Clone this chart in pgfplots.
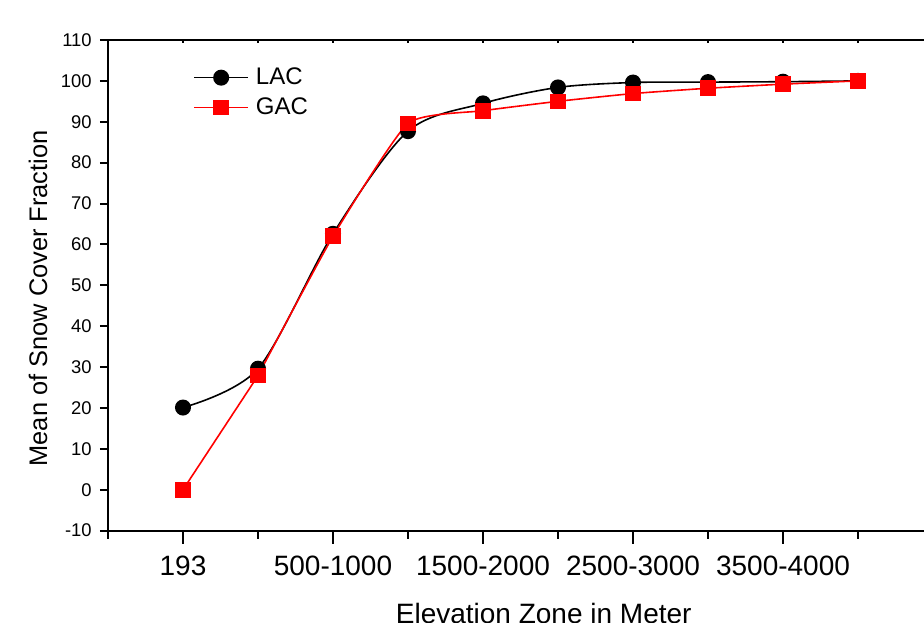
\documentclass[border=0pt]{standalone}
\usepackage{fontspec}
\setmainfont{Liberation Sans}
\usepackage{pgfplots}
\pgfplotsset{compat=1.18}
\begin{document}
\begin{tikzpicture}
\begin{axis}[
  name=ax,
  scale only axis,
  width=412.5bp, height=245.3bp,
  xmin=-1, xmax=10, ymin=-10, ymax=110,
  axis line style={line width=1bp},
  every tick/.style={line width=1bp, black},
  xtick pos=bottom, ytick pos=left,
  tick align=outside,
  major tick length=4bp,
  xtick={-1,1,3,5,7,9},
  xticklabels={,,,,,},
  extra x ticks={0,2,4,6,8},
  extra x tick labels={193,500-1000,1500-2000,2500-3000,3500-4000},
  extra x tick style={major tick length=6.5bp},
  ytick={-10,0,...,110},
  /pgf/number format/assume math mode=true,
  xticklabel style={font=\fontsize{14bp}{16bp}\selectfont, inner sep=0pt, anchor=north, yshift=-6bp},
  yticklabel style={font=\fontsize{9.2bp}{11bp}\selectfont, inner sep=0pt, anchor=east, xshift=-4bp},
  xlabel={Elevation Zone in Meter},
  xlabel style={font=\fontsize{14bp}{16bp}\selectfont, at={(axis cs:4.81,-10)}, anchor=base, inner sep=0pt, yshift=-46.5bp},
  ylabel={Mean of Snow Cover Fraction},
  ylabel style={font=\fontsize{12.7bp}{15bp}\selectfont, at={(axis cs:-1,46.8)}, anchor=center, inner sep=0pt, yshift=35bp},
  legend style={draw=none, fill=none, at={(axis cs:0.133,103.3)}, anchor=north west,
                font=\fontsize{12bp}{14bp}\selectfont, inner sep=0pt, row sep=5bp,
                nodes={inner sep=0pt}, column sep=3.5bp},
  legend cell align=left,
  legend image code/.code={\draw[mark repeat=2,mark phase=2,#1] plot coordinates {(0bp,0bp)(13.5bp,0bp)(27bp,0bp)};},
]
\addplot[black, line width=0.8bp, smooth, tension=0.5, mark=*, mark size=3.6bp, mark options={solid, fill=black}]
  coordinates {(0,20.1)(1,29.6)(2,62.6)(3,87.7)(4,94.5)(5,98.4)(6,99.6)(7,99.7)(8,99.8)(9,100)};
\addlegendentry{LAC}
\addplot[red, line width=0.8bp, smooth, tension=0.3, mark=square*, mark size=3.5bp, mark options={solid, fill=red}]
  coordinates {(1,27.9)(2,62.0)(3,89.6)(4,92.7)(5,95.0)(6,96.9)(7,98.2)(8,99.2)(9,100)};
\addlegendentry{GAC}
\addplot[red, line width=0.8bp, sharp plot, mark=square*, mark size=3.5bp, mark options={solid, fill=red}, forget plot]
  coordinates {(0,0)(1,27.9)};
\end{axis}
\begin{axis}[
  scale only axis,
  width=412.5bp, height=245.3bp,
  xmin=-1, xmax=10, ymin=-10, ymax=110,
  axis x line*=top, hide y axis,
  axis line style={line width=1bp},
  every tick/.style={line width=0.7bp, black},
  tick align=inside, major tick length=1.5bp,
  xtick={-1,0,...,10}, xticklabels={},
]
\end{axis}
\pgfresetboundingbox
\path[use as bounding box] ([shift={(-54bp,-46bp)}]ax.south west) rectangle ([shift={(408bp,265.3bp)}]ax.south west);
\end{tikzpicture}
\end{document}
